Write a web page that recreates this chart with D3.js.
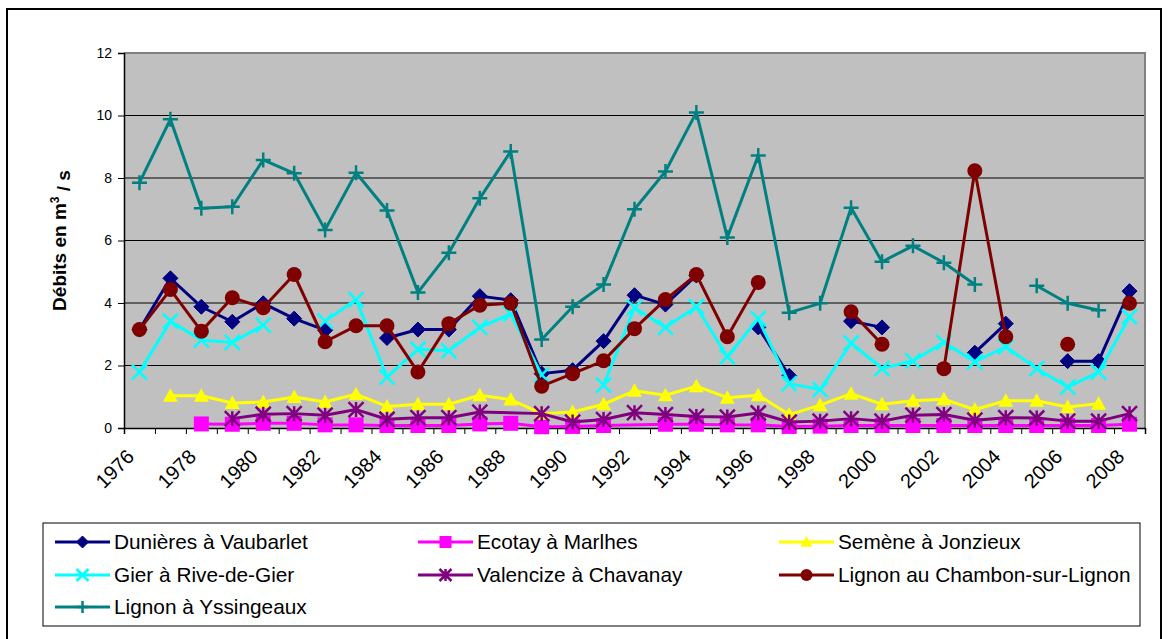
<!DOCTYPE html>
<html>
<head>
<meta charset="utf-8">
<script src="https://cdn.jsdelivr.net/npm/d3@7"></script>
<style>
  html, body { margin: 0; padding: 0; background: #fff; }
  svg { display: block; font-family: Arial, "Liberation Sans", sans-serif; }
</style>
</head>
<body>
<svg id="chart" width="1168" height="639"></svg>
<script>
// Années de mesure
const years = d3.range(1976, 2009);
const yTicks = [0, 2, 4, 6, 8, 10, 12];
const xTickLabels = years.filter(y => y % 2 === 0);

// Débits moyens annuels (m3/s) ; null = pas de mesure
const dunieres = [3.15, 4.79, 3.88, 3.40, 3.99, 3.50, 3.13, null, 2.88, 3.15, 3.15, 4.22, 4.09, 1.74, 1.85, 2.78, 4.25, 3.95, 4.88, null, 3.22, 1.67, null, 3.42, 3.22, null, null, 2.41, 3.34, null, 2.14, 2.14, 4.38];
const ecotay = [null, null, 0.13, 0.12, 0.15, 0.15, 0.10, 0.10, 0.08, 0.08, 0.08, 0.13, 0.15, 0.04, 0.05, 0.08, null, 0.12, 0.12, 0.10, 0.10, 0.05, 0.06, 0.08, 0.08, 0.08, 0.08, 0.08, 0.08, 0.08, 0.08, 0.08, 0.12];
const semene = [null, 1.03, 1.03, 0.80, 0.83, 0.99, 0.83, 1.08, 0.69, 0.76, 0.76, 1.05, 0.91, 0.46, 0.51, 0.76, 1.19, 1.05, 1.34, 0.97, 1.05, 0.43, 0.73, 1.10, 0.76, 0.87, 0.92, 0.59, 0.87, 0.87, 0.67, 0.78, null];
const gier = [1.79, 3.42, 2.81, 2.74, 3.29, null, 3.42, 4.11, 1.63, 2.52, 2.47, 3.22, 3.65, 1.70, null, 1.37, 3.85, 3.22, 3.88, 2.28, 3.50, 1.42, 1.23, 2.72, 1.90, 2.15, 2.74, 2.12, 2.60, 1.90, 1.31, 1.79, 3.56];
const valencize = [null, null, null, 0.30, 0.44, 0.46, 0.41, 0.59, 0.28, 0.33, 0.33, 0.51, null, 0.46, 0.19, 0.27, 0.49, 0.43, 0.37, 0.35, 0.48, 0.19, 0.22, 0.30, 0.22, 0.41, 0.43, 0.25, 0.33, 0.32, 0.22, 0.22, 0.46];
const chambon = [3.15, 4.43, 3.10, 4.17, 3.85, 4.91, 2.76, 3.27, 3.27, 1.79, 3.34, 3.93, 3.99, 1.34, 1.74, 2.15, 3.18, 4.11, 4.91, 2.92, 4.66, null, null, 3.72, 2.68, null, 1.90, 8.23, 2.92, null, 2.68, null, 3.99];
const yssingeaux = [7.85, 9.88, 7.03, 7.08, 8.58, 8.15, 6.34, 8.17, 6.96, 4.34, 5.61, 7.35, 8.85, 2.83, 3.88, 4.59, 7.00, 8.21, 10.10, 6.10, 8.72, 3.69, 3.99, 7.05, 5.32, 5.83, 5.29, 4.59, null, 4.55, 3.99, 3.77, null];

const seriesNames = ["Dunières à Vaubarlet", "Ecotay à Marlhes", "Semène à Jonzieux", "Gier à Rive-de-Gier", "Valencize à Chavanay", "Lignon au Chambon-sur-Lignon", "Lignon à Yssingeaux"];
const seriesValues = [dunieres, ecotay, semene, gier, valencize, chambon, yssingeaux];
const seriesColors = ["#000080", "#FF00FF", "#FFFF00", "#00FFFF", "#800080", "#800000", "#008080"];
const seriesMarkers = ["diamond", "square", "triangle", "cross", "star", "circle", "plus"];
// séries dont les valeurs manquantes (#N/A) sont reliées
const seriesBridge = [false, true, false, false, true, false, false];

const svg = d3.select("#chart");
const plot = { left: 124, top: 53, right: 1145, bottom: 428 };

// cadre extérieur
svg.append("rect").attr("x", 7).attr("y", 9).attr("width", 1154).attr("height", 640)
  .attr("fill", "#fff").attr("stroke", "#000").attr("stroke-width", 2);

const x = d3.scaleBand().domain(years).range([plot.left, plot.right]).padding(0);
const y = d3.scaleLinear().domain([0, 12]).range([plot.bottom, plot.top]);
const cx = yr => x(yr) + x.bandwidth() / 2;

// fond de la zone de tracé
svg.append("rect").attr("x", plot.left).attr("y", plot.top)
  .attr("width", plot.right - plot.left).attr("height", plot.bottom - plot.top)
  .attr("fill", "#C0C0C0");

// quadrillage horizontal
svg.append("g").selectAll("line").data(yTicks.filter(t => t > 0 && t < 12)).join("line")
  .attr("x1", plot.left).attr("x2", plot.right)
  .attr("y1", d => y(d)).attr("y2", d => y(d))
  .attr("stroke", "#000").attr("stroke-width", 1);

// bordure haute et droite
svg.append("path")
  .attr("d", `M${plot.left},${plot.top}H${plot.right}V${plot.bottom}`)
  .attr("fill", "none").attr("stroke", "#808080").attr("stroke-width", 2);

// axe vertical
const yAxis = svg.append("g").attr("transform", `translate(${plot.left},0)`)
  .call(d3.axisLeft(y).tickValues(yTicks).tickSize(6).tickPadding(6).tickFormat(d3.format("d")));
yAxis.select(".domain").attr("stroke", "#000").attr("stroke-width", 1.5);
yAxis.selectAll(".tick line").attr("stroke", "#000");
yAxis.selectAll(".tick text").attr("font-size", 14).attr("fill", "#000")
  .attr("font-family", "Arial, 'Liberation Sans', sans-serif");

// axe horizontal : graduations entre catégories
const xb = d3.scaleLinear().domain([0, years.length]).range([plot.left, plot.right]);
const xAxis = svg.append("g").attr("transform", `translate(0,${plot.bottom})`)
  .call(d3.axisBottom(xb).tickValues(d3.range(0, years.length + 1)).tickSize(6).tickFormat(""));
xAxis.select(".domain").attr("stroke", "#000").attr("stroke-width", 1.5);
xAxis.selectAll(".tick line").attr("stroke", "#000");

// étiquettes des années
const xLab = svg.append("g").attr("transform", `translate(0,${plot.bottom})`)
  .call(d3.axisBottom(x).tickValues(xTickLabels).tickSize(0).tickFormat(d3.format("d")));
xLab.select(".domain").remove();
xLab.selectAll(".tick text")
  .attr("font-size", 20).attr("fill", "#000")
  .attr("font-family", "Arial, 'Liberation Sans', sans-serif")
  .attr("text-anchor", "end")
  .attr("dy", 0).attr("y", 0)
  .attr("transform", "translate(-4,30) rotate(-45)");

// titre de l'axe vertical
const yTitle = svg.append("text")
  .attr("transform", `translate(66,${(plot.top + plot.bottom) / 2}) rotate(-90)`)
  .attr("text-anchor", "middle")
  .attr("font-size", 19).attr("font-weight", "bold").attr("fill", "#000");
yTitle.append("tspan").text("Débits en m");
yTitle.append("tspan").attr("font-size", 12).attr("dy", "-0.6em").text("3");
yTitle.append("tspan").attr("dy", "0.6em").text(" / s");

// symboles
function drawMarker(g, type, color, px, py, s) {
  const h = s / 2;
  if (type === "diamond") {
    g.append("path").attr("d", `M${px},${py - h}L${px + h},${py}L${px},${py + h}L${px - h},${py}Z`)
      .attr("fill", color).attr("stroke", color);
  } else if (type === "square") {
    g.append("rect").attr("x", px - h).attr("y", py - h).attr("width", s).attr("height", s)
      .attr("fill", color);
  } else if (type === "triangle") {
    g.append("path").attr("d", `M${px},${py - h}L${px + h},${py + h * 0.8}L${px - h},${py + h * 0.8}Z`)
      .attr("fill", color);
  } else if (type === "circle") {
    g.append("circle").attr("cx", px).attr("cy", py).attr("r", h).attr("fill", color);
  } else if (type === "cross") {
    g.append("path").attr("d", `M${px - h},${py - h}L${px + h},${py + h}M${px - h},${py + h}L${px + h},${py - h}`)
      .attr("stroke", color).attr("stroke-width", 2.5).attr("fill", "none");
  } else if (type === "star") {
    g.append("path").attr("d", `M${px - h},${py - h}L${px + h},${py + h}M${px - h},${py + h}L${px + h},${py - h}M${px},${py - h}L${px},${py + h}`)
      .attr("stroke", color).attr("stroke-width", 2.5).attr("fill", "none");
  } else if (type === "plus") {
    g.append("path").attr("d", `M${px - h},${py}L${px + h},${py}M${px},${py - h}L${px},${py + h}`)
      .attr("stroke", color).attr("stroke-width", 2.5).attr("fill", "none");
  }
}

// tracé des séries
const series = seriesNames.map((name, i) => ({
  name, color: seriesColors[i], marker: seriesMarkers[i], bridge: seriesBridge[i],
  points: years.map((yr, j) => ({ year: yr, value: seriesValues[i][j] }))
}));

const lineGen = d3.line().x(d => cx(d.year)).y(d => y(d.value)).defined(d => d.value != null);

series.forEach(s => {
  const g = svg.append("g");
  const pts = s.bridge ? s.points.filter(d => d.value != null) : s.points;
  g.append("path").datum(pts).attr("d", lineGen)
    .attr("fill", "none").attr("stroke", s.color).attr("stroke-width", 3)
    .attr("stroke-linejoin", "round");
  s.points.filter(d => d.value != null).forEach(d => drawMarker(g, s.marker, s.color, cx(d.year), y(d.value), 15));
});

// légende
const legend = svg.append("g");
legend.append("rect").attr("x", 43).attr("y", 523).attr("width", 1097).attr("height", 103)
  .attr("fill", "#fff").attr("stroke", "#000").attr("stroke-width", 1);
const colX = [55, 418, 779];
const rowY = [542, 575, 607];
series.forEach((s, i) => {
  const lx = colX[i % 3], ly = rowY[Math.floor(i / 3)];
  const g = legend.append("g");
  g.append("line").attr("x1", lx).attr("x2", lx + 55).attr("y1", ly).attr("y2", ly)
    .attr("stroke", s.color).attr("stroke-width", 3);
  drawMarker(g, s.marker, s.color, lx + 27.5, ly, 12);
  g.append("text").attr("x", lx + 59).attr("y", ly).attr("dy", "0.35em")
    .attr("font-size", 20.8).attr("fill", "#000").text(s.name);
});
</script>
</body>
</html>
